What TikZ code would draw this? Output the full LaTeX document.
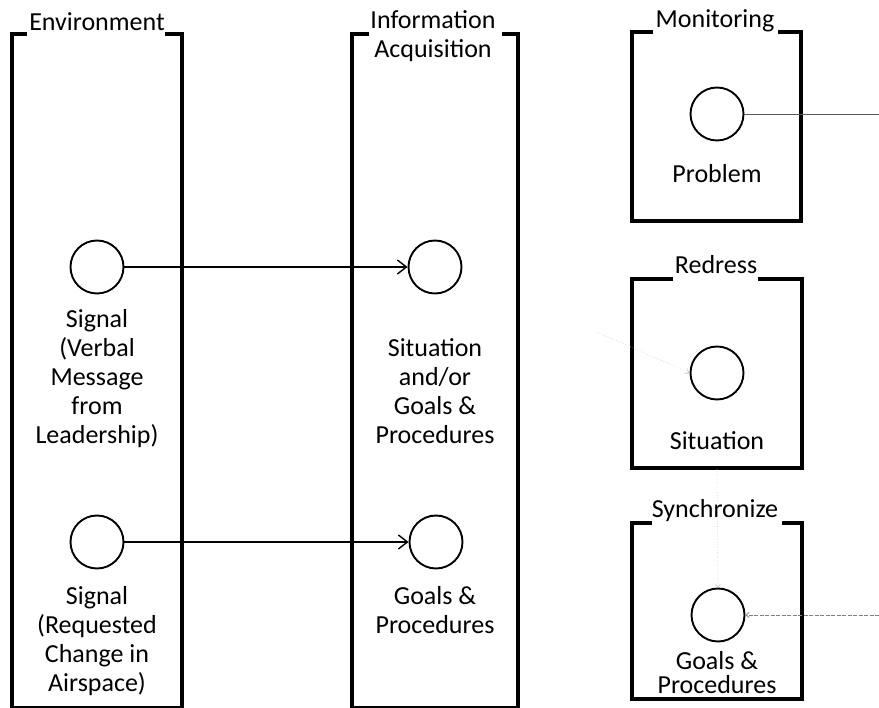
\documentclass[tikz,border=0pt]{standalone}
\usepackage{fontspec}
\setmainfont{Carlito}
\usetikzlibrary{arrows.meta}
\begin{document}
\begin{tikzpicture}[x=1pt,y=-1pt,
  lane/.style={line width=3.2pt, line join=miter},
  state/.style={circle, draw, line width=1.9pt, minimum size=53pt, inner sep=0pt},
  lbl/.style={font=\fontsize{26}{29}\selectfont, align=center, inner sep=0pt, anchor=north},
  ttl/.style={font=\fontsize{26}{29}\selectfont, inner sep=0pt, anchor=base},
  flow/.style={line width=1.4pt, -{Straight Barb[length=9pt,width=14pt,line width=1.4pt]}},
  link/.style={line width=0.8pt, black!65},
  faint/.style={line width=0.6pt, black!22, dotted}]
\useasboundingbox (0,0) rectangle (879,708);

% lane and box frames, open at the top around their titles
\draw[lane] (27,34) -- (12,34) -- (12,708) -- (182,708) -- (182,34) -- (165,34);
\draw[lane] (369,34) -- (352,34) -- (352,708) -- (518,708) -- (518,34) -- (502,34);
\draw[lane] (653,32) -- (632,32) -- (632,221) -- (801,221) -- (801,32) -- (778,32);
\draw[lane] (673,279) -- (632,279) -- (632,468) -- (802,468) -- (802,279) -- (758,279);
\draw[lane] (652,523) -- (632,523) -- (632,699) -- (802,699) -- (802,523) -- (782,523);

% titles
\node[ttl] (envt) at (97,31) {Environment};
\node[lbl] (infot) at (433,10) {Information\\Acquisition};
\node[ttl] (mont) at (715,28) {Monitoring};
\node[ttl] (redt) at (716,274) {Redress};
\node[ttl] (synt) at (715,518) {Synchronize};

% states
\node[state] (e1) at (97,267) {};
\node[state] (e2) at (97,542) {};
\node[state] (i1) at (435,267) {};
\node[state] (i2) at (436,542) {};
\node[state] (m) at (717,114) {};
\node[state] (r) at (717,373) {};
\node[state] (s) at (718,615) {};

% state labels
\node[lbl] (e1t) at (97,309) {Signal\\(Verbal\\Message\\from\\Leadership)};
\node[lbl] (e2t) at (97,586) {Signal\\(Requested\\Change in\\Airspace)};
\node[lbl] (i1t) at (435,338) {Situation\\and/or\\Goals \&\\Procedures};
\node[lbl] (i2t) at (435,586) {Goals \&\\Procedures};
\node[lbl] (mt) at (717,164) {Problem};
\node[lbl] (rt) at (717,431) {Situation};
\node[lbl, font=\fontsize{26}{24}\selectfont] (st) at (717,651) {Goals \&\\Procedures};

% signal flows
\draw[flow] (e1) -- (i1);
\draw[flow] (e2) -- (i2);

% outgoing and incoming links on the right
\coordinate (mout) at (879,114);
\coordinate (sin) at (879,615);
\draw[link] (m) -- (mout);
\draw[link, black!50, dash pattern=on 4pt off 1.5pt, -{Straight Barb[length=3pt,width=5pt]}] (sin) -- (s);

% faint traces into the lower circles
\coordinate (rin) at (597,332);
\coordinate (rdown) at (717,469);
\draw[faint, -{Straight Barb[length=4pt,width=6pt]}] (rin) -- (r.west);
\draw[faint, -{Straight Barb[length=3pt,width=5pt]}] (rdown) -- (s.north);
\end{tikzpicture}
\end{document}
